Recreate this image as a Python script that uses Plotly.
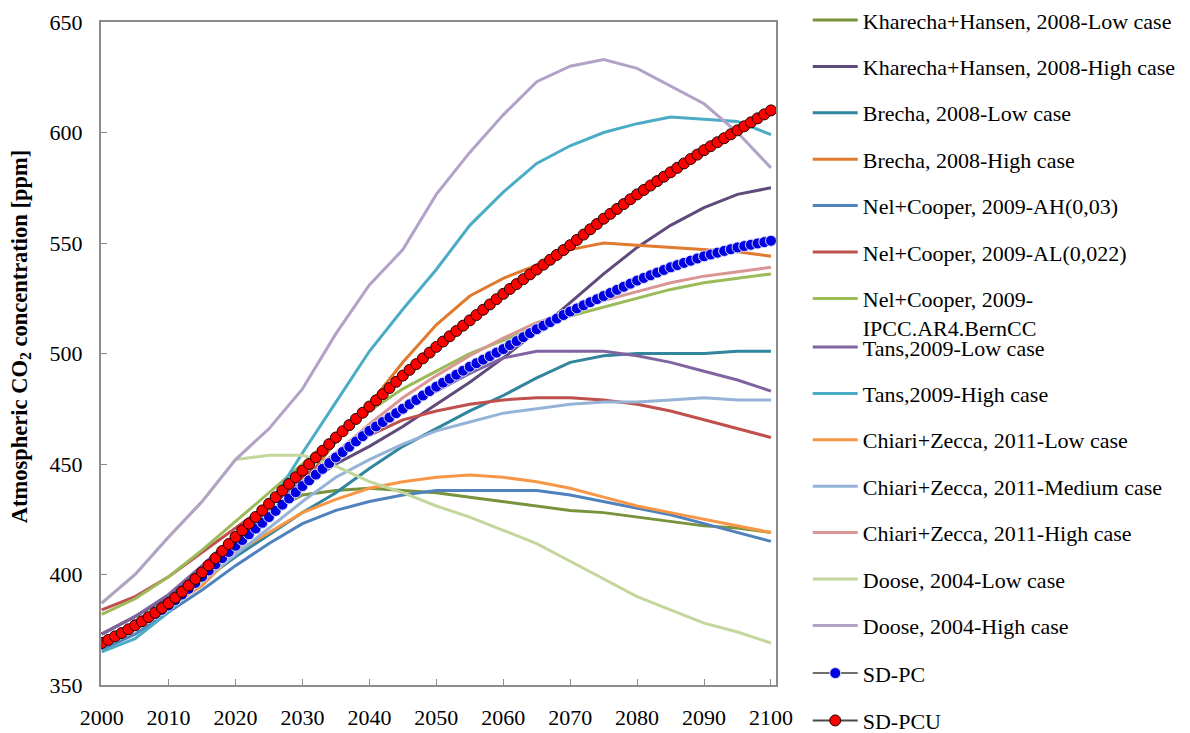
import plotly.graph_objects as go

# years read every 5 years for the literature scenarios
YEARS = list(range(2000, 2101, 5))
# the two SD runs are drawn with a marker every year
YEARS_SD = list(range(2000, 2101))

kharecha_low = [373, 381, 390, 403, 416, 428, 436, 438, 439, 438, 437, 435, 433, 431, 429, 428, 426, 424, 422, 421, 419]
kharecha_high = [373, 381, 390, 403, 416, 428, 440, 450, 458, 467, 477, 487, 498, 510, 523, 536, 548, 558, 566, 572, 575]
brecha_low = [370, 377, 386, 397, 408, 418, 428, 437, 448, 458, 466, 474, 481, 489, 496, 499, 500, 500, 500, 501, 501]
brecha_high = [370, 377, 386, 398, 411, 425, 441, 460, 477, 496, 513, 526, 534, 540, 547, 550, 549, 548, 547, 546, 544]
nel_ah = [366, 373, 383, 393, 404, 414, 423, 429, 433, 436, 438, 438, 438, 438, 436, 433, 430, 427, 423, 419, 415]
nel_al = [384, 390, 399, 410, 421, 432, 444, 455, 463, 470, 474, 477, 479, 480, 480, 479, 477, 474, 470, 466, 462]
nel_ipcc = [382, 389, 399, 411, 424, 437, 450, 463, 474, 484, 492, 500, 506, 512, 517, 521, 525, 529, 532, 534, 536]
tans_low = [373, 381, 391, 404, 418, 431, 442, 452, 464, 474, 483, 491, 498, 501, 501, 501, 499, 496, 492, 488, 483]
tans_high = [365, 371, 383, 398, 413, 431, 455, 478, 501, 520, 538, 558, 573, 586, 594, 600, 604, 607, 606, 605, 599]
chiari_low = [370, 377, 385, 395, 410, 419, 428, 434, 439, 442, 444, 445, 444, 442, 439, 435, 431, 428, 425, 422, 419]
chiari_med = [370, 377, 386, 397, 409, 421, 433, 444, 452, 459, 465, 469, 473, 475, 477, 478, 478, 479, 480, 479, 479]
chiari_high = [370, 378, 388, 400, 413, 427, 441, 455, 468, 480, 490, 499, 507, 514, 519, 524, 528, 532, 535, 537, 539]
doose_low = [387, 400, 417, 433, 452, 454, 454, 449, 442, 437, 431, 426, 420, 414, 406, 398, 390, 384, 378, 374, 369]
doose_high = [387, 400, 417, 433, 452, 466, 484, 509, 531, 547, 572, 591, 608, 623, 630, 633, 629, 621, 613, 600, 584]

sd_pc = [369.0, 370.4, 371.9, 373.4, 375.1, 377.0, 378.7, 380.4, 382.2, 384.0,
         386.0, 388.4, 390.9, 393.5, 396.2, 399.0, 401.8, 404.6, 407.4, 410.2,
         413.0, 415.6, 418.2, 420.8, 423.4, 426.0, 428.8, 431.6, 434.4, 437.2,
         440.0, 442.6, 445.2, 447.8, 450.4, 453.0, 455.4, 457.8, 460.2, 462.6,
         465.0, 467.0, 469.0, 471.0, 473.0, 475.0, 477.0, 479.0, 481.0, 483.0,
         485.0, 486.8, 488.6, 490.4, 492.2, 494.0, 495.6, 497.2, 498.8, 500.4,
         502.0, 503.8, 505.6, 507.4, 509.2, 511.0, 512.6, 514.2, 515.8, 517.4,
         519.0, 520.4, 521.8, 523.2, 524.6, 526.0, 527.4, 528.8, 530.2, 531.6,
         533.0, 534.2, 535.4, 536.6, 537.8, 539.0, 540.0, 541.0, 542.0, 543.0,
         544.0, 544.8, 545.6, 546.4, 547.2, 548.0, 548.6, 549.2, 549.8, 550.4,
         551.0]
sd_pcu = [369.0, 370.4, 372.0, 373.5, 375.2, 377.0, 378.8, 380.7, 382.7, 384.8,
          387.0, 389.5, 392.2, 395.0, 398.0, 401.0, 404.2, 407.4, 410.6, 413.8,
          417.0, 420.0, 423.0, 426.0, 429.0, 432.0, 435.0, 438.0, 441.0, 444.0,
          447.0, 450.0, 453.0, 456.0, 459.0, 462.0, 464.8, 467.6, 470.4, 473.2,
          476.0, 478.8, 481.6, 484.4, 487.2, 490.0, 492.6, 495.2, 497.8, 500.4,
          503.0, 505.4, 507.8, 510.2, 512.6, 515.0, 517.4, 519.8, 522.2, 524.6,
          527.0, 529.2, 531.4, 533.6, 535.8, 538.0, 540.2, 542.4, 544.6, 546.8,
          549.0, 551.4, 553.8, 556.2, 558.6, 561.0, 563.2, 565.4, 567.6, 569.8,
          572.0, 574.0, 576.0, 578.0, 580.0, 582.0, 584.0, 586.0, 588.0, 590.0,
          592.0, 593.8, 595.6, 597.4, 599.2, 601.0, 602.8, 604.6, 606.4, 608.2,
          610.0]

# (name, values, colour, legend)
SERIES = [
    ('Kharecha+Hansen, 2008-Low case', kharecha_low, '#77933c', 'legend'),
    ('Kharecha+Hansen, 2008-High case', kharecha_high, '#604a7b', 'legend'),
    ('Brecha, 2008-Low case', brecha_low, '#31859c', 'legend'),
    ('Brecha, 2008-High case', brecha_high, '#e07a2e', 'legend'),
    ('Nel+Cooper, 2009-AH(0,03)', nel_ah, '#4f81bd', 'legend'),
    ('Nel+Cooper, 2009-AL(0,022)', nel_al, '#c0504d', 'legend'),
    ('Nel+Cooper, 2009-<br>IPCC.AR4.BernCC', nel_ipcc, '#9bbb59', 'legend'),
    ('Tans,2009-Low case', tans_low, '#8064a2', 'legend2'),
    ('Tans,2009-High case', tans_high, '#4bacc6', 'legend2'),
    ('Chiari+Zecca, 2011-Low case', chiari_low, '#f79646', 'legend2'),
    ('Chiari+Zecca, 2011-Medium case', chiari_med, '#95b3d7', 'legend2'),
    ('Chiari+Zecca, 2011-High case', chiari_high, '#d99694', 'legend2'),
    ('Doose, 2004-Low case', doose_low, '#c3d69b', 'legend2'),
    ('Doose, 2004-High case', doose_high, '#b3a2c7', 'legend2'),
]

FONT = 'Liberation Serif'

fig = go.Figure()
for name, vals, col, leg in SERIES:
    fig.add_trace(go.Scatter(x=YEARS, y=vals, name=name, mode='lines',
                             line=dict(color=col, width=3),
                             legend=leg, legendgroup=name))

fig.add_trace(go.Scatter(x=YEARS_SD, y=sd_pc, name='SD-PC', mode='lines+markers',
                         line=dict(color='#6f6f6f', width=2),
                         marker=dict(color='#0000e0', size=11,
                                     line=dict(color='#d8dcff', width=1)),
                         legend='legend3', legendgroup='SD-PC'))
fig.add_trace(go.Scatter(x=YEARS_SD, y=sd_pcu, name='SD-PCU', mode='lines+markers',
                         line=dict(color='#4a4a4a', width=2),
                         marker=dict(color='#ff0000', size=11,
                                     line=dict(color='#200000', width=1)),
                         legend='legend3', legendgroup='SD-PCU'))

legend_style = dict(font=dict(family=FONT, size=22, color='black'),
                    xref='container', yref='paper', x=0.6766,
                    xanchor='left', yanchor='top', itemwidth=45, valign='top',
                    tracegroupgap=14.8, bgcolor='rgba(0,0,0,0)')

# page body keeps its default 8px margin, so the figure is 8px smaller
fig.update_layout(
    width=1182, height=725,
    margin=dict(l=93, r=414, t=14, b=48, autoexpand=False),
    paper_bgcolor='white', plot_bgcolor='white',
    font=dict(family=FONT, size=22, color='black'),
    legend=dict(legend_style, y=1.0344),
    legend2=dict(legend_style, y=0.5412),
    legend3=dict(legend_style, y=0.0494, tracegroupgap=15.8),
    showlegend=True,
)
fig.update_xaxes(range=[1999.9, 2100.75], tickmode='linear', tick0=2000, dtick=10,
                 showline=True, linecolor='#8c8c8c', linewidth=2, mirror=True,
                 ticks='inside', ticklen=6, tickcolor='#8c8c8c', automargin=False,
                 showgrid=False, zeroline=False, ticklabelstandoff=12)
fig.update_yaxes(range=[350, 650], tickmode='linear', tick0=350, dtick=50,
                 showline=True, linecolor='#8c8c8c', linewidth=2, mirror=True,
                 ticks='inside', ticklen=6, tickcolor='#8c8c8c', automargin=False,
                 showgrid=False, zeroline=False, ticklabelstandoff=12)

# y axis title placed a bit above the plot centre, as in the source figure
fig.add_annotation(text='<b>Atmospheric CO<sub>2</sub> concentration [ppm]</b>',
                   textangle=-90, xref='paper', yref='paper', x=-0.1186, y=0.526,
                   xanchor='center', yanchor='middle', showarrow=False,
                   font=dict(family=FONT, size=22.5, color='black'))

fig.write_html("out.html")
